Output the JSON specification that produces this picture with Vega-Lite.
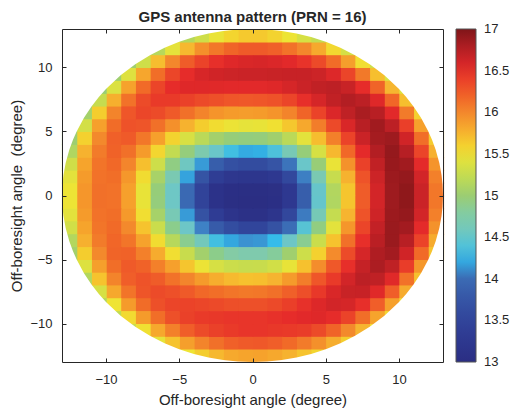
{
"$schema": "https://vega.github.io/schema/vega-lite/v6.json",
"width": 381,
"height": 333,
"autosize": {"type": "none"},
"padding": {"left": 62, "top": 29, "right": 68, "bottom": 50},
"config": {"font": "Liberation Sans", "view": {"stroke": null}},
"title": {"text": "GPS antenna pattern (PRN = 16)", "fontSize": 15, "fontWeight": "bold", "color": "#262626", "anchor": "middle", "offset": 4},
"datasets": {
"grid": [
{"x":0,"y":0,"v":13.02},{"x":0,"y":1,"v":13.2},{"x":0,"y":2,"v":13.62},{"x":0,"y":3,"v":14.22},{"x":0,"y":4,"v":14.96},{"x":0,"y":5,"v":15.46},{"x":0,"y":6,"v":15.89},{"x":0,"y":7,"v":16.26},{"x":0,"y":8,"v":16.52},{"x":0,"y":9,"v":16.65},{"x":0,"y":10,"v":16.58},{"x":0,"y":11,"v":16.24},{"x":0,"y":12,"v":15.64},
{"x":1,"y":0,"v":13.04},{"x":1,"y":1,"v":13.25},{"x":1,"y":2,"v":13.74},{"x":1,"y":3,"v":14.38},{"x":1,"y":4,"v":15.03},{"x":1,"y":5,"v":15.52},{"x":1,"y":6,"v":15.93},{"x":1,"y":7,"v":16.29},{"x":1,"y":8,"v":16.54},{"x":1,"y":9,"v":16.66},{"x":1,"y":10,"v":16.56},{"x":1,"y":11,"v":16.21},{"x":1,"y":12,"v":15.59},
{"x":2,"y":0,"v":13.26},{"x":2,"y":1,"v":13.56},{"x":2,"y":2,"v":14.04},{"x":2,"y":3,"v":14.65},{"x":2,"y":4,"v":15.19},{"x":2,"y":5,"v":15.65},{"x":2,"y":6,"v":16.02},{"x":2,"y":7,"v":16.37},{"x":2,"y":8,"v":16.59},{"x":2,"y":9,"v":16.67},{"x":2,"y":10,"v":16.52},{"x":2,"y":11,"v":16.12},{"x":2,"y":12,"v":15.49},
{"x":3,"y":0,"v":13.85},{"x":3,"y":1,"v":14.09},{"x":3,"y":2,"v":14.49},{"x":3,"y":3,"v":14.97},{"x":3,"y":4,"v":15.43},{"x":3,"y":5,"v":15.82},{"x":3,"y":6,"v":16.19},{"x":3,"y":7,"v":16.48},{"x":3,"y":8,"v":16.65},{"x":3,"y":9,"v":16.67},{"x":3,"y":10,"v":16.46},{"x":3,"y":11,"v":16.0},{"x":3,"y":12,"v":15.35},
{"x":4,"y":0,"v":14.48},{"x":4,"y":1,"v":14.67},{"x":4,"y":2,"v":14.98},{"x":4,"y":3,"v":15.35},{"x":4,"y":4,"v":15.7},{"x":4,"y":5,"v":16.06},{"x":4,"y":6,"v":16.38},{"x":4,"y":7,"v":16.59},{"x":4,"y":8,"v":16.7},{"x":4,"y":9,"v":16.64},{"x":4,"y":10,"v":16.34},{"x":4,"y":11,"v":15.81},{"x":4,"y":12,"v":15.24},
{"x":5,"y":0,"v":15.14},{"x":5,"y":1,"v":15.25},{"x":5,"y":2,"v":15.47},{"x":5,"y":3,"v":15.73},{"x":5,"y":4,"v":16.04},{"x":5,"y":5,"v":16.34},{"x":5,"y":6,"v":16.56},{"x":5,"y":7,"v":16.7},{"x":5,"y":8,"v":16.72},{"x":5,"y":9,"v":16.55},{"x":5,"y":10,"v":16.15},{"x":5,"y":11,"v":15.56},
{"x":6,"y":0,"v":15.66},{"x":6,"y":1,"v":15.76},{"x":6,"y":2,"v":15.94},{"x":6,"y":3,"v":16.17},{"x":6,"y":4,"v":16.38},{"x":6,"y":5,"v":16.57},{"x":6,"y":6,"v":16.71},{"x":6,"y":7,"v":16.77},{"x":6,"y":8,"v":16.66},{"x":6,"y":9,"v":16.37},{"x":6,"y":10,"v":15.87},{"x":6,"y":11,"v":15.34},
{"x":7,"y":0,"v":16.23},{"x":7,"y":1,"v":16.28},{"x":7,"y":2,"v":16.39},{"x":7,"y":3,"v":16.51},{"x":7,"y":4,"v":16.65},{"x":7,"y":5,"v":16.75},{"x":7,"y":6,"v":16.81},{"x":7,"y":7,"v":16.73},{"x":7,"y":8,"v":16.49},{"x":7,"y":9,"v":16.08},{"x":7,"y":10,"v":15.53},
{"x":8,"y":0,"v":16.6},{"x":8,"y":1,"v":16.64},{"x":8,"y":2,"v":16.7},{"x":8,"y":3,"v":16.77},{"x":8,"y":4,"v":16.83},{"x":8,"y":5,"v":16.85},{"x":8,"y":6,"v":16.75},{"x":8,"y":7,"v":16.54},{"x":8,"y":8,"v":16.19},{"x":8,"y":9,"v":15.69},{"x":8,"y":10,"v":15.3},
{"x":9,"y":0,"v":16.86},{"x":9,"y":1,"v":16.87},{"x":9,"y":2,"v":16.89},{"x":9,"y":3,"v":16.9},{"x":9,"y":4,"v":16.86},{"x":9,"y":5,"v":16.73},{"x":9,"y":6,"v":16.52},{"x":9,"y":7,"v":16.18},{"x":9,"y":8,"v":15.74},{"x":9,"y":9,"v":15.38},
{"x":10,"y":0,"v":16.93},{"x":10,"y":1,"v":16.9},{"x":10,"y":2,"v":16.85},{"x":10,"y":3,"v":16.76},{"x":10,"y":4,"v":16.62},{"x":10,"y":5,"v":16.4},{"x":10,"y":6,"v":16.07},{"x":10,"y":7,"v":15.69},{"x":10,"y":8,"v":15.4},
{"x":11,"y":0,"v":16.65},{"x":11,"y":1,"v":16.61},{"x":11,"y":2,"v":16.51},{"x":11,"y":3,"v":16.37},{"x":11,"y":4,"v":16.14},{"x":11,"y":5,"v":15.86},{"x":11,"y":6,"v":15.6},
{"x":12,"y":0,"v":16.09},{"x":12,"y":1,"v":16.04},{"x":12,"y":2,"v":15.93},{"x":12,"y":3,"v":15.77},{"x":12,"y":4,"v":15.63},
{"x":-1,"y":0,"v":13.02},{"x":-1,"y":1,"v":13.2},{"x":-1,"y":2,"v":13.61},{"x":-1,"y":3,"v":14.21},{"x":-1,"y":4,"v":14.95},{"x":-1,"y":5,"v":15.45},{"x":-1,"y":6,"v":15.88},{"x":-1,"y":7,"v":16.25},{"x":-1,"y":8,"v":16.52},{"x":-1,"y":9,"v":16.65},{"x":-1,"y":10,"v":16.57},{"x":-1,"y":11,"v":16.24},{"x":-1,"y":12,"v":15.64},
{"x":-2,"y":0,"v":13.03},{"x":-2,"y":1,"v":13.22},{"x":-2,"y":2,"v":13.67},{"x":-2,"y":3,"v":14.32},{"x":-2,"y":4,"v":14.97},{"x":-2,"y":5,"v":15.48},{"x":-2,"y":6,"v":15.89},{"x":-2,"y":7,"v":16.26},{"x":-2,"y":8,"v":16.52},{"x":-2,"y":9,"v":16.64},{"x":-2,"y":10,"v":16.54},{"x":-2,"y":11,"v":16.19},{"x":-2,"y":12,"v":15.58},
{"x":-3,"y":0,"v":13.11},{"x":-3,"y":1,"v":13.36},{"x":-3,"y":2,"v":13.85},{"x":-3,"y":3,"v":14.49},{"x":-3,"y":4,"v":15.05},{"x":-3,"y":5,"v":15.54},{"x":-3,"y":6,"v":15.93},{"x":-3,"y":7,"v":16.3},{"x":-3,"y":8,"v":16.53},{"x":-3,"y":9,"v":16.62},{"x":-3,"y":10,"v":16.48},{"x":-3,"y":11,"v":16.09},{"x":-3,"y":12,"v":15.47},
{"x":-4,"y":0,"v":13.48},{"x":-4,"y":1,"v":13.73},{"x":-4,"y":2,"v":14.17},{"x":-4,"y":3,"v":14.7},{"x":-4,"y":4,"v":15.19},{"x":-4,"y":5,"v":15.62},{"x":-4,"y":6,"v":16.02},{"x":-4,"y":7,"v":16.34},{"x":-4,"y":8,"v":16.54},{"x":-4,"y":9,"v":16.58},{"x":-4,"y":10,"v":16.38},{"x":-4,"y":11,"v":15.95},{"x":-4,"y":12,"v":15.3},
{"x":-5,"y":0,"v":13.98},{"x":-5,"y":1,"v":14.19},{"x":-5,"y":2,"v":14.55},{"x":-5,"y":3,"v":14.96},{"x":-5,"y":4,"v":15.36},{"x":-5,"y":5,"v":15.76},{"x":-5,"y":6,"v":16.13},{"x":-5,"y":7,"v":16.39},{"x":-5,"y":8,"v":16.54},{"x":-5,"y":9,"v":16.49},{"x":-5,"y":10,"v":16.23},{"x":-5,"y":11,"v":15.73},{"x":-5,"y":12,"v":15.16},
{"x":-6,"y":0,"v":14.52},{"x":-6,"y":1,"v":14.67},{"x":-6,"y":2,"v":14.93},{"x":-6,"y":3,"v":15.23},{"x":-6,"y":4,"v":15.59},{"x":-6,"y":5,"v":15.95},{"x":-6,"y":6,"v":16.24},{"x":-6,"y":7,"v":16.43},{"x":-6,"y":8,"v":16.49},{"x":-6,"y":9,"v":16.36},{"x":-6,"y":10,"v":16.0},{"x":-6,"y":11,"v":15.44},
{"x":-7,"y":0,"v":14.97},{"x":-7,"y":1,"v":15.08},{"x":-7,"y":2,"v":15.29},{"x":-7,"y":3,"v":15.57},{"x":-7,"y":4,"v":15.86},{"x":-7,"y":5,"v":16.13},{"x":-7,"y":6,"v":16.33},{"x":-7,"y":7,"v":16.43},{"x":-7,"y":8,"v":16.37},{"x":-7,"y":9,"v":16.14},{"x":-7,"y":10,"v":15.7},{"x":-7,"y":11,"v":15.17},
{"x":-8,"y":0,"v":15.46},{"x":-8,"y":1,"v":15.54},{"x":-8,"y":2,"v":15.69},{"x":-8,"y":3,"v":15.89},{"x":-8,"y":4,"v":16.09},{"x":-8,"y":5,"v":16.27},{"x":-8,"y":6,"v":16.36},{"x":-8,"y":7,"v":16.33},{"x":-8,"y":8,"v":16.16},{"x":-8,"y":9,"v":15.83},{"x":-8,"y":10,"v":15.3},
{"x":-9,"y":0,"v":15.86},{"x":-9,"y":1,"v":15.91},{"x":-9,"y":2,"v":16.01},{"x":-9,"y":3,"v":16.13},{"x":-9,"y":4,"v":16.24},{"x":-9,"y":5,"v":16.29},{"x":-9,"y":6,"v":16.26},{"x":-9,"y":7,"v":16.12},{"x":-9,"y":8,"v":15.85},{"x":-9,"y":9,"v":15.4},{"x":-9,"y":10,"v":15.02},
{"x":-10,"y":0,"v":16.12},{"x":-10,"y":1,"v":16.14},{"x":-10,"y":2,"v":16.17},{"x":-10,"y":3,"v":16.2},{"x":-10,"y":4,"v":16.21},{"x":-10,"y":5,"v":16.15},{"x":-10,"y":6,"v":16.02},{"x":-10,"y":7,"v":15.78},{"x":-10,"y":8,"v":15.38},{"x":-10,"y":9,"v":15.03},
{"x":-11,"y":0,"v":16.13},{"x":-11,"y":1,"v":16.12},{"x":-11,"y":2,"v":16.11},{"x":-11,"y":3,"v":16.07},{"x":-11,"y":4,"v":15.99},{"x":-11,"y":5,"v":15.86},{"x":-11,"y":6,"v":15.62},{"x":-11,"y":7,"v":15.24},{"x":-11,"y":8,"v":14.98},
{"x":-12,"y":0,"v":15.92},{"x":-12,"y":1,"v":15.89},{"x":-12,"y":2,"v":15.84},{"x":-12,"y":3,"v":15.76},{"x":-12,"y":4,"v":15.6},{"x":-12,"y":5,"v":15.33},{"x":-12,"y":6,"v":15.06},
{"x":-13,"y":0,"v":15.49},{"x":-13,"y":1,"v":15.43},{"x":-13,"y":2,"v":15.31},{"x":-13,"y":3,"v":15.13},{"x":-13,"y":4,"v":15.01},
{"x":-1,"y":-1,"v":13.0},{"x":-1,"y":-2,"v":13.07},{"x":-1,"y":-3,"v":13.52},{"x":-1,"y":-4,"v":14.15},{"x":-1,"y":-5,"v":14.71},{"x":-1,"y":-6,"v":15.25},{"x":-1,"y":-7,"v":15.68},{"x":-1,"y":-8,"v":16.08},{"x":-1,"y":-9,"v":16.3},{"x":-1,"y":-10,"v":16.45},{"x":-1,"y":-11,"v":16.45},{"x":-1,"y":-12,"v":16.24},{"x":-1,"y":-13,"v":15.84},
{"x":-2,"y":-1,"v":13.02},{"x":-2,"y":-2,"v":13.15},{"x":-2,"y":-3,"v":13.63},{"x":-2,"y":-4,"v":14.2},{"x":-2,"y":-5,"v":14.77},{"x":-2,"y":-6,"v":15.28},{"x":-2,"y":-7,"v":15.72},{"x":-2,"y":-8,"v":16.1},{"x":-2,"y":-9,"v":16.31},{"x":-2,"y":-10,"v":16.45},{"x":-2,"y":-11,"v":16.43},{"x":-2,"y":-12,"v":16.21},{"x":-2,"y":-13,"v":15.81},
{"x":-3,"y":-1,"v":13.11},{"x":-3,"y":-2,"v":13.34},{"x":-3,"y":-3,"v":13.82},{"x":-3,"y":-4,"v":14.33},{"x":-3,"y":-5,"v":14.9},{"x":-3,"y":-6,"v":15.35},{"x":-3,"y":-7,"v":15.79},{"x":-3,"y":-8,"v":16.14},{"x":-3,"y":-9,"v":16.34},{"x":-3,"y":-10,"v":16.44},{"x":-3,"y":-11,"v":16.39},{"x":-3,"y":-12,"v":16.13},{"x":-3,"y":-13,"v":15.73},
{"x":-4,"y":-1,"v":13.48},{"x":-4,"y":-2,"v":13.71},{"x":-4,"y":-3,"v":14.1},{"x":-4,"y":-4,"v":14.6},{"x":-4,"y":-5,"v":15.05},{"x":-4,"y":-6,"v":15.48},{"x":-4,"y":-7,"v":15.89},{"x":-4,"y":-8,"v":16.17},{"x":-4,"y":-9,"v":16.36},{"x":-4,"y":-10,"v":16.43},{"x":-4,"y":-11,"v":16.33},{"x":-4,"y":-12,"v":16.02},{"x":-4,"y":-13,"v":15.62},
{"x":-5,"y":-1,"v":13.98},{"x":-5,"y":-2,"v":14.17},{"x":-5,"y":-3,"v":14.5},{"x":-5,"y":-4,"v":14.88},{"x":-5,"y":-5,"v":15.26},{"x":-5,"y":-6,"v":15.66},{"x":-5,"y":-7,"v":16.01},{"x":-5,"y":-8,"v":16.24},{"x":-5,"y":-9,"v":16.38},{"x":-5,"y":-10,"v":16.39},{"x":-5,"y":-11,"v":16.22},{"x":-5,"y":-12,"v":15.87},{"x":-5,"y":-13,"v":15.5},
{"x":-6,"y":-1,"v":14.52},{"x":-6,"y":-2,"v":14.65},{"x":-6,"y":-3,"v":14.89},{"x":-6,"y":-4,"v":15.17},{"x":-6,"y":-5,"v":15.53},{"x":-6,"y":-6,"v":15.86},{"x":-6,"y":-7,"v":16.12},{"x":-6,"y":-8,"v":16.3},{"x":-6,"y":-9,"v":16.37},{"x":-6,"y":-10,"v":16.3},{"x":-6,"y":-11,"v":16.04},{"x":-6,"y":-12,"v":15.67},
{"x":-7,"y":-1,"v":14.96},{"x":-7,"y":-2,"v":15.07},{"x":-7,"y":-3,"v":15.27},{"x":-7,"y":-4,"v":15.54},{"x":-7,"y":-5,"v":15.8},{"x":-7,"y":-6,"v":16.04},{"x":-7,"y":-7,"v":16.23},{"x":-7,"y":-8,"v":16.33},{"x":-7,"y":-9,"v":16.3},{"x":-7,"y":-10,"v":16.14},{"x":-7,"y":-11,"v":15.82},{"x":-7,"y":-12,"v":15.45},
{"x":-8,"y":-1,"v":15.46},{"x":-8,"y":-2,"v":15.53},{"x":-8,"y":-3,"v":15.67},{"x":-8,"y":-4,"v":15.85},{"x":-8,"y":-5,"v":16.04},{"x":-8,"y":-6,"v":16.2},{"x":-8,"y":-7,"v":16.28},{"x":-8,"y":-8,"v":16.27},{"x":-8,"y":-9,"v":16.15},{"x":-8,"y":-10,"v":15.89},{"x":-8,"y":-11,"v":15.52},
{"x":-9,"y":-1,"v":15.86},{"x":-9,"y":-2,"v":15.9},{"x":-9,"y":-3,"v":15.99},{"x":-9,"y":-4,"v":16.1},{"x":-9,"y":-5,"v":16.2},{"x":-9,"y":-6,"v":16.24},{"x":-9,"y":-7,"v":16.22},{"x":-9,"y":-8,"v":16.11},{"x":-9,"y":-9,"v":15.89},{"x":-9,"y":-10,"v":15.55},{"x":-9,"y":-11,"v":15.26},
{"x":-10,"y":-1,"v":16.12},{"x":-10,"y":-2,"v":16.14},{"x":-10,"y":-3,"v":16.16},{"x":-10,"y":-4,"v":16.18},{"x":-10,"y":-5,"v":16.19},{"x":-10,"y":-6,"v":16.14},{"x":-10,"y":-7,"v":16.02},{"x":-10,"y":-8,"v":15.82},{"x":-10,"y":-9,"v":15.5},{"x":-10,"y":-10,"v":15.22},
{"x":-11,"y":-1,"v":16.13},{"x":-11,"y":-2,"v":16.12},{"x":-11,"y":-3,"v":16.1},{"x":-11,"y":-4,"v":16.07},{"x":-11,"y":-5,"v":15.99},{"x":-11,"y":-6,"v":15.87},{"x":-11,"y":-7,"v":15.67},{"x":-11,"y":-8,"v":15.35},{"x":-11,"y":-9,"v":15.14},
{"x":-12,"y":-1,"v":15.92},{"x":-12,"y":-2,"v":15.89},{"x":-12,"y":-3,"v":15.84},{"x":-12,"y":-4,"v":15.77},{"x":-12,"y":-5,"v":15.62},{"x":-12,"y":-6,"v":15.39},{"x":-12,"y":-7,"v":15.15},
{"x":-13,"y":-1,"v":15.49},{"x":-13,"y":-2,"v":15.43},{"x":-13,"y":-3,"v":15.32},{"x":-13,"y":-4,"v":15.15},{"x":-13,"y":-5,"v":15.05},
{"x":0,"y":-1,"v":13.0},{"x":0,"y":-2,"v":13.07},{"x":0,"y":-3,"v":13.52},{"x":0,"y":-4,"v":14.16},{"x":0,"y":-5,"v":14.71},{"x":0,"y":-6,"v":15.26},{"x":0,"y":-7,"v":15.69},{"x":0,"y":-8,"v":16.09},{"x":0,"y":-9,"v":16.3},{"x":0,"y":-10,"v":16.45},{"x":0,"y":-11,"v":16.45},{"x":0,"y":-12,"v":16.25},{"x":0,"y":-13,"v":15.85},
{"x":1,"y":-1,"v":13.03},{"x":1,"y":-2,"v":13.18},{"x":1,"y":-3,"v":13.7},{"x":1,"y":-4,"v":14.26},{"x":1,"y":-5,"v":14.82},{"x":1,"y":-6,"v":15.32},{"x":1,"y":-7,"v":15.75},{"x":1,"y":-8,"v":16.13},{"x":1,"y":-9,"v":16.34},{"x":1,"y":-10,"v":16.47},{"x":1,"y":-11,"v":16.44},{"x":1,"y":-12,"v":16.22},{"x":1,"y":-13,"v":15.82},
{"x":2,"y":-1,"v":13.26},{"x":2,"y":-2,"v":13.54},{"x":2,"y":-3,"v":14.01},{"x":2,"y":-4,"v":14.5},{"x":2,"y":-5,"v":15.03},{"x":2,"y":-6,"v":15.46},{"x":2,"y":-7,"v":15.89},{"x":2,"y":-8,"v":16.21},{"x":2,"y":-9,"v":16.4},{"x":2,"y":-10,"v":16.49},{"x":2,"y":-11,"v":16.43},{"x":2,"y":-12,"v":16.16},{"x":2,"y":-13,"v":15.76},
{"x":3,"y":-1,"v":13.85},{"x":3,"y":-2,"v":14.07},{"x":3,"y":-3,"v":14.42},{"x":3,"y":-4,"v":14.87},{"x":3,"y":-5,"v":15.29},{"x":3,"y":-6,"v":15.68},{"x":3,"y":-7,"v":16.06},{"x":3,"y":-8,"v":16.31},{"x":3,"y":-9,"v":16.47},{"x":3,"y":-10,"v":16.52},{"x":3,"y":-11,"v":16.41},{"x":3,"y":-12,"v":16.07},{"x":3,"y":-13,"v":15.67},
{"x":4,"y":-1,"v":14.47},{"x":4,"y":-2,"v":14.64},{"x":4,"y":-3,"v":14.94},{"x":4,"y":-4,"v":15.27},{"x":4,"y":-5,"v":15.6},{"x":4,"y":-6,"v":15.97},{"x":4,"y":-7,"v":16.26},{"x":4,"y":-8,"v":16.44},{"x":4,"y":-9,"v":16.55},{"x":4,"y":-10,"v":16.54},{"x":4,"y":-11,"v":16.33},{"x":4,"y":-12,"v":15.95},{"x":4,"y":-13,"v":15.58},
{"x":5,"y":-1,"v":15.13},{"x":5,"y":-2,"v":15.24},{"x":5,"y":-3,"v":15.43},{"x":5,"y":-4,"v":15.67},{"x":5,"y":-5,"v":15.98},{"x":5,"y":-6,"v":16.25},{"x":5,"y":-7,"v":16.43},{"x":5,"y":-8,"v":16.57},{"x":5,"y":-9,"v":16.61},{"x":5,"y":-10,"v":16.49},{"x":5,"y":-11,"v":16.19},{"x":5,"y":-12,"v":15.79},
{"x":6,"y":-1,"v":15.66},{"x":6,"y":-2,"v":15.75},{"x":6,"y":-3,"v":15.92},{"x":6,"y":-4,"v":16.13},{"x":6,"y":-5,"v":16.33},{"x":6,"y":-6,"v":16.48},{"x":6,"y":-7,"v":16.61},{"x":6,"y":-8,"v":16.66},{"x":6,"y":-9,"v":16.59},{"x":6,"y":-10,"v":16.38},{"x":6,"y":-11,"v":15.99},{"x":6,"y":-12,"v":15.62},
{"x":7,"y":-1,"v":16.23},{"x":7,"y":-2,"v":16.28},{"x":7,"y":-3,"v":16.37},{"x":7,"y":-4,"v":16.48},{"x":7,"y":-5,"v":16.59},{"x":7,"y":-6,"v":16.68},{"x":7,"y":-7,"v":16.73},{"x":7,"y":-8,"v":16.67},{"x":7,"y":-9,"v":16.48},{"x":7,"y":-10,"v":16.14},{"x":7,"y":-11,"v":15.75},
{"x":8,"y":-1,"v":16.6},{"x":8,"y":-2,"v":16.63},{"x":8,"y":-3,"v":16.69},{"x":8,"y":-4,"v":16.74},{"x":8,"y":-5,"v":16.79},{"x":8,"y":-6,"v":16.8},{"x":8,"y":-7,"v":16.71},{"x":8,"y":-8,"v":16.53},{"x":8,"y":-9,"v":16.22},{"x":8,"y":-10,"v":15.84},{"x":8,"y":-11,"v":15.54},
{"x":9,"y":-1,"v":16.86},{"x":9,"y":-2,"v":16.87},{"x":9,"y":-3,"v":16.88},{"x":9,"y":-4,"v":16.88},{"x":9,"y":-5,"v":16.84},{"x":9,"y":-6,"v":16.71},{"x":9,"y":-7,"v":16.53},{"x":9,"y":-8,"v":16.22},{"x":9,"y":-9,"v":15.86},{"x":9,"y":-10,"v":15.57},
{"x":10,"y":-1,"v":16.93},{"x":10,"y":-2,"v":16.9},{"x":10,"y":-3,"v":16.84},{"x":10,"y":-4,"v":16.75},{"x":10,"y":-5,"v":16.62},{"x":10,"y":-6,"v":16.41},{"x":10,"y":-7,"v":16.12},{"x":10,"y":-8,"v":15.8},{"x":10,"y":-9,"v":15.56},
{"x":11,"y":-1,"v":16.65},{"x":11,"y":-2,"v":16.61},{"x":11,"y":-3,"v":16.51},{"x":11,"y":-4,"v":16.38},{"x":11,"y":-5,"v":16.16},{"x":11,"y":-6,"v":15.91},{"x":11,"y":-7,"v":15.68},
{"x":12,"y":-1,"v":16.09},{"x":12,"y":-2,"v":16.04},{"x":12,"y":-3,"v":15.94},{"x":12,"y":-4,"v":15.8},{"x":12,"y":-5,"v":15.67}
],
"edge": [
{"mx":-13,"mt":0,"mb":0},{"mx":-12.97,"mt":0.883,"mb":-0.883},{"mx":-12.9,"mt":1.609,"mb":-1.609},{"mx":-12.75,"mt":2.537,"mb":-2.537},{"mx":-12.5,"mt":3.571,"mb":-3.571},{"mx":-12.25,"mt":4.352,"mb":-4.352},{"mx":-12,"mt":5,"mb":-5},{"mx":-11.5,"mt":6.062,"mb":-6.062},{"mx":-11,"mt":6.928,"mb":-6.928},{"mx":-10.5,"mt":7.665,"mb":-7.665},{"mx":-10,"mt":8.307,"mb":-8.307},{"mx":-9,"mt":9.381,"mb":-9.381},{"mx":-8,"mt":10.247,"mb":-10.247},{"mx":-7,"mt":10.954,"mb":-10.954},{"mx":-6,"mt":11.533,"mb":-11.533},{"mx":-5,"mt":12,"mb":-12},{"mx":-4,"mt":12.369,"mb":-12.369},{"mx":-3,"mt":12.649,"mb":-12.649},{"mx":-2,"mt":12.845,"mb":-12.845},{"mx":-1,"mt":12.961,"mb":-12.961},{"mx":0,"mt":13,"mb":-13},
{"mx":1,"mt":12.961,"mb":-12.961},{"mx":2,"mt":12.845,"mb":-12.845},{"mx":3,"mt":12.649,"mb":-12.649},{"mx":4,"mt":12.369,"mb":-12.369},{"mx":5,"mt":12,"mb":-12},{"mx":6,"mt":11.533,"mb":-11.533},{"mx":7,"mt":10.954,"mb":-10.954},{"mx":8,"mt":10.247,"mb":-10.247},{"mx":9,"mt":9.381,"mb":-9.381},{"mx":10,"mt":8.307,"mb":-8.307},{"mx":10.5,"mt":7.665,"mb":-7.665},{"mx":11,"mt":6.928,"mb":-6.928},{"mx":11.5,"mt":6.062,"mb":-6.062},{"mx":12,"mt":5,"mb":-5},{"mx":12.25,"mt":4.352,"mb":-4.352},{"mx":12.5,"mt":3.571,"mb":-3.571},{"mx":12.75,"mt":2.537,"mb":-2.537},{"mx":12.9,"mt":1.609,"mb":-1.609},{"mx":12.97,"mt":0.883,"mb":-0.883},{"mx":13,"mt":0,"mb":0}
]
},
"layer": [
{
"data": {"name": "grid"},
"mark": {"type": "rect", "filled": false, "strokeWidth": 1.2, "binSpacing": 0},
"encoding": {
"x": {"field": "x", "type": "quantitative", "bin": {"binned": true, "step": 1}, "axis": null},
"y": {"field": "y", "type": "quantitative", "bin": {"binned": true, "step": 1}, "axis": null},
"color": {"field": "v", "type": "quantitative", "legend": null,
"scale": {"type": "linear", "domain": [13, 13.25, 13.5, 13.75, 14, 14.12, 14.25, 14.4, 14.5, 14.75, 15, 15.25, 15.5, 15.75, 16, 16.25, 16.5, 16.75, 17], "range": ["#2b2e83", "#2e3890", "#31449a", "#3655a5", "#3b6bb4", "#3f86c8", "#33bceb", "#52c2d8", "#6dc6c7", "#84caa8", "#9ccd72", "#c7dc4e", "#efe434", "#f6b430", "#f3872c", "#ef5829", "#e62a2a", "#b81f24", "#7f1518"], "clamp": true}}
}
},
{
"data": {"name": "grid"},
"mark": {"type": "rect", "binSpacing": 0},
"encoding": {
"x": {"field": "x", "type": "quantitative", "bin": {"binned": true, "step": 1}, "scale": {"domain": [-13, 13], "nice": false, "zero": false}, "title": "Off-boresight angle (degree)",
"axis": {"orient": "bottom", "values": [-10, -5, 0, 5, 10], "grid": false, "tickSize": -4, "tickColor": "#262626", "domainColor": "#262626", "labelFontSize": 13, "labelColor": "#262626", "labelPadding": 15, "titleFontSize": 15, "titleFontWeight": "normal", "titleColor": "#262626", "titlePadding": 6, "zindex": 1}},
"y": {"field": "y", "type": "quantitative", "bin": {"binned": true, "step": 1}, "scale": {"domain": [-13, 13], "nice": false, "zero": false}, "title": "Off-boresight angle\u00a0 (degree)",
"axis": {"orient": "left", "values": [-10, -5, 0, 5, 10], "grid": false, "tickSize": -4, "tickColor": "#262626", "domainColor": "#262626", "labelFontSize": 13, "labelColor": "#262626", "labelPadding": 14, "titleFontSize": 15, "titleFontWeight": "normal", "titleColor": "#262626", "titlePadding": 5, "zindex": 1}},
"color": {"field": "v", "type": "quantitative",
"scale": {"type": "linear", "domain": [13, 13.25, 13.5, 13.75, 14, 14.12, 14.25, 14.4, 14.5, 14.75, 15, 15.25, 15.5, 15.75, 16, 16.25, 16.5, 16.75, 17], "range": ["#2b2e83", "#2e3890", "#31449a", "#3655a5", "#3b6bb4", "#3f86c8", "#33bceb", "#52c2d8", "#6dc6c7", "#84caa8", "#9ccd72", "#c7dc4e", "#efe434", "#f6b430", "#f3872c", "#ef5829", "#e62a2a", "#b81f24", "#7f1518"], "clamp": true},
"legend": {"type": "gradient", "direction": "vertical", "orient": "right", "offset": 12, "padding": 0, "title": null, "gradientLength": 333, "gradientThickness": 20, "gradientStrokeColor": "#555555", "gradientStrokeWidth": 1, "values": [13, 13.5, 14, 14.5, 15, 15.5, 16, 16.5, 17], "format": "~g", "labelFontSize": 13, "labelColor": "#262626", "labelOffset": 8, "labelOverlap": false, "encode": {"labels": {"update": {"baseline": {"value": "middle"}}}}}}
}
},
{
"data": {"name": "edge"},
"mark": {"type": "area", "color": "white", "opacity": 1},
"encoding": {
"x": {"field": "mx", "type": "quantitative", "title": null, "axis": {"orient": "top", "values": [-10, -5, 0, 5, 10], "labels": false, "grid": false, "tickSize": -4, "tickColor": "#262626", "domainColor": "#262626", "zindex": 1}},
"y": {"field": "mt", "type": "quantitative", "title": null, "axis": {"orient": "right", "values": [-10, -5, 0, 5, 10], "labels": false, "grid": false, "tickSize": -4, "tickColor": "#262626", "domainColor": "#262626", "zindex": 1}},
"y2": {"datum": 13}
}
},
{
"data": {"name": "edge"},
"mark": {"type": "area", "color": "white", "opacity": 1},
"encoding": {
"x": {"field": "mx", "type": "quantitative", "axis": null},
"y": {"field": "mb", "type": "quantitative", "axis": null},
"y2": {"datum": -13}
}
}
],
"resolve": {"axis": {"x": "independent", "y": "independent"}, "scale": {"color": "independent"}, "legend": {"color": "independent"}}
}
